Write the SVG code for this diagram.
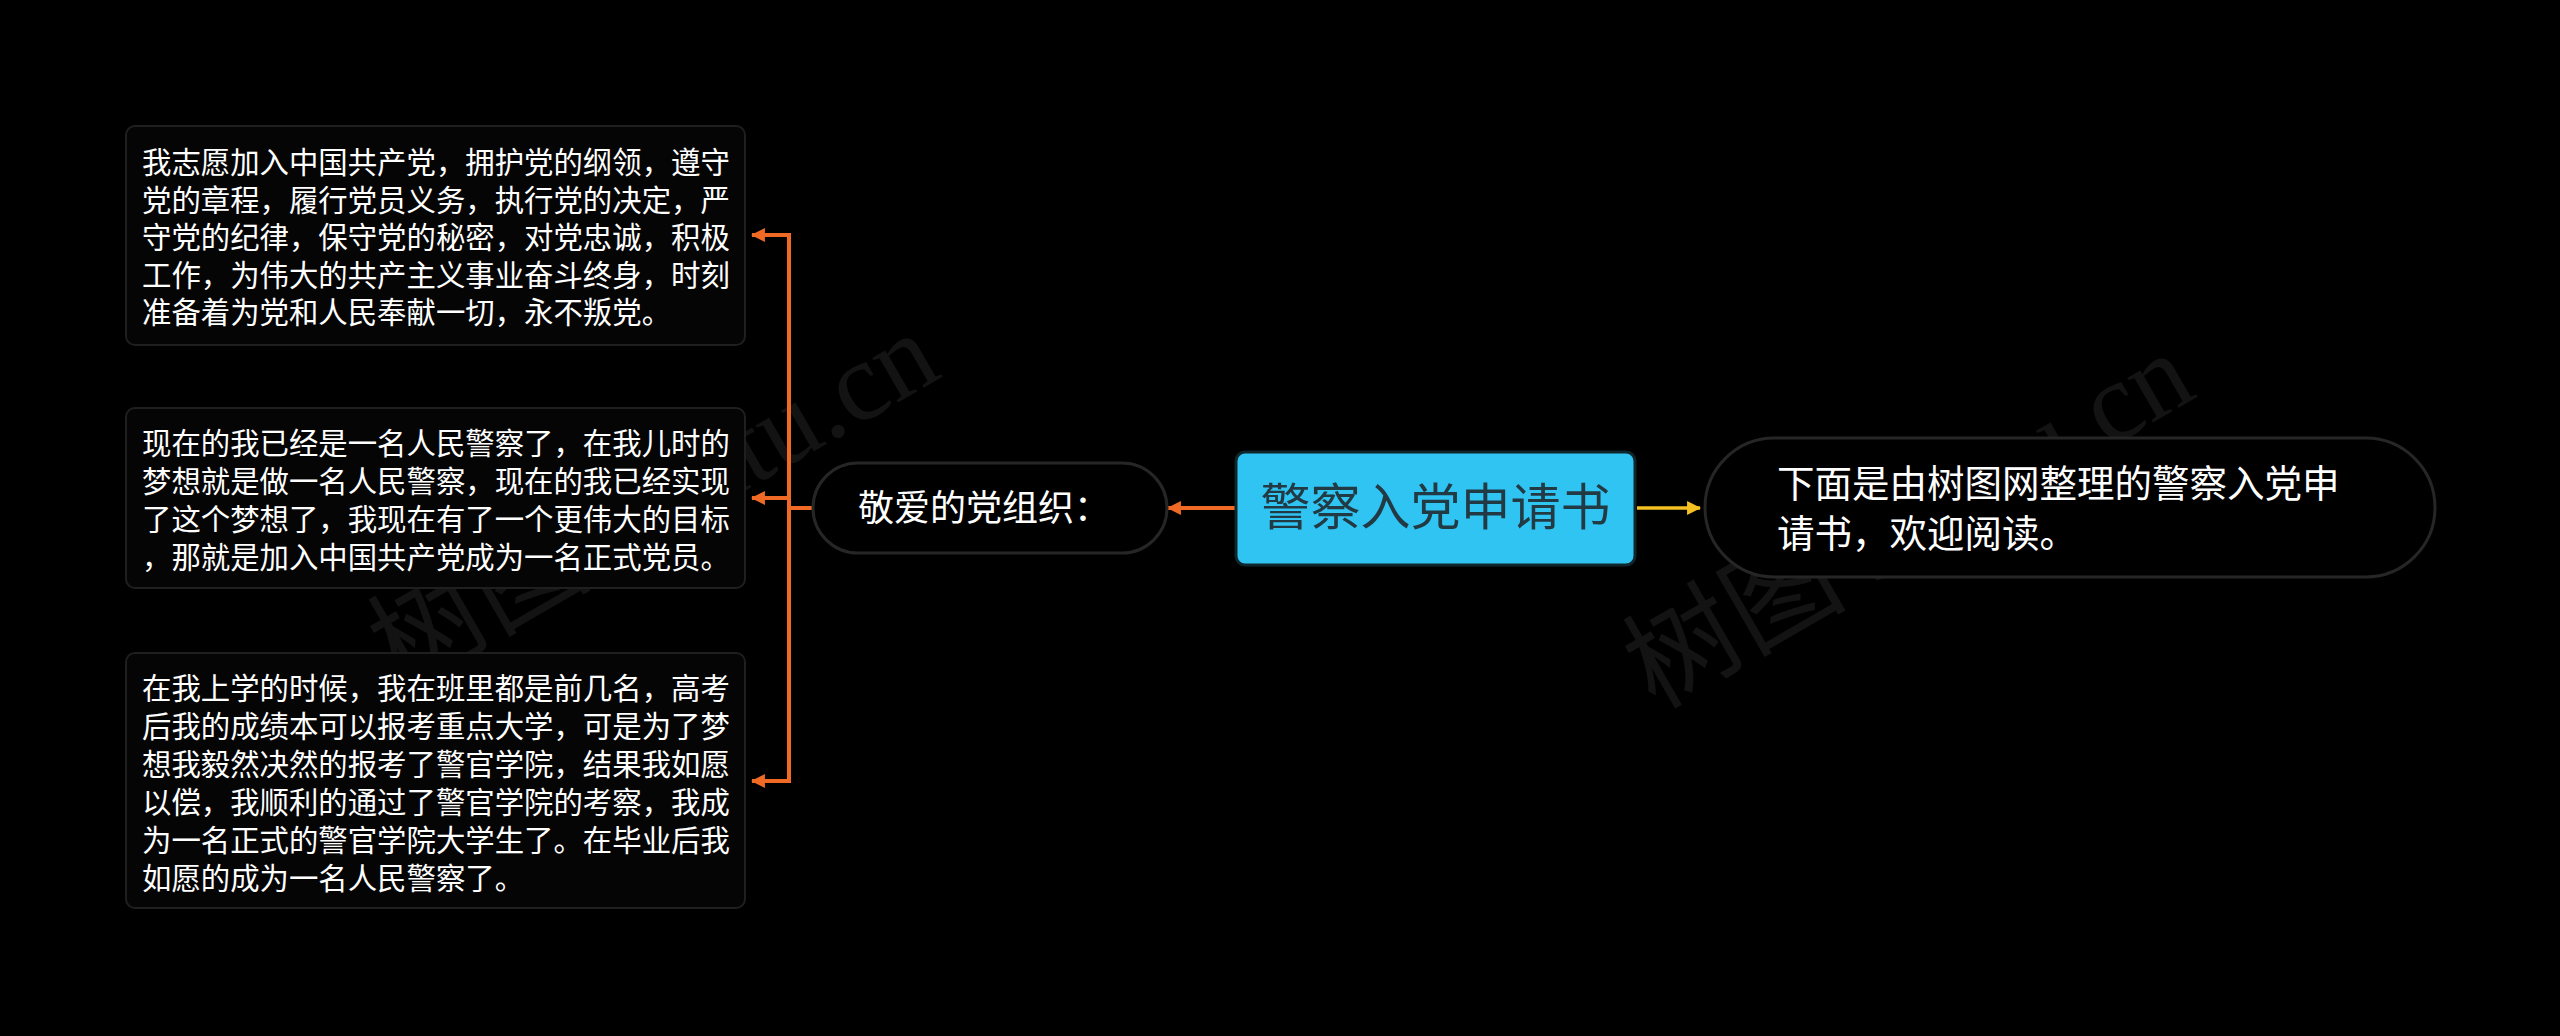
<svg xmlns="http://www.w3.org/2000/svg" width="2560" height="1036" viewBox="0 0 2560 1036">
<defs>
<style>
.bg{fill:#000}
.card{fill:#050505;stroke:#1f1f1f;stroke-width:2}
.pill{fill:#000;stroke:#262626;stroke-width:3}
.t{font-family:"Noto Sans CJK SC","Noto Sans",sans-serif;fill:#fff}
.body{font-size:29.4px}
.edge{fill:none;stroke:#f06a25;stroke-width:4}
.edgey{fill:none;stroke:#f5c022;stroke-width:3.5}
.wm{font-family:"Liberation Serif","Noto Sans CJK SC",serif;font-size:112px;fill:#fff;fill-opacity:0.075}
</style>
<marker id="ah" markerUnits="userSpaceOnUse" markerWidth="14" markerHeight="14" viewBox="0 0 13 13" refX="12" refY="6.5" orient="auto">
<path d="M0,0 L13,6.5 L0,13 z" fill="#f06a25"/>
</marker>
<marker id="ahy" markerUnits="userSpaceOnUse" markerWidth="14" markerHeight="14" viewBox="0 0 13 13" refX="12" refY="6.5" orient="auto">
<path d="M0,0 L13,6.5 L0,13 z" fill="#f5c022"/>
</marker>
</defs>
<rect class="bg" x="0" y="0" width="2560" height="1036"/>

<g id="watermarks">
<text class="wm" x="400" y="690" transform="rotate(-30 400 690)">树图 shutu.cn</text>
<text class="wm" x="1655" y="710" transform="rotate(-30 1655 710)">树图 shutu.cn</text>
</g>

<g id="connectors">
<path class="edge" d="M1236,508 L1168,508" marker-end="url(#ah)"/>
<path class="edgey" d="M1637,508 L1700,508" marker-end="url(#ahy)"/>
<path class="edge" d="M813,508 L789,508"/>
<path class="edge" d="M789,233 L789,783"/>
<path class="edge" d="M791,235 L752,235" marker-end="url(#ah)"/>
<path class="edge" d="M791,498 L752,498" marker-end="url(#ah)"/>
<path class="edge" d="M791,781 L752,781" marker-end="url(#ah)"/>
</g>

<g id="node-root">
<rect x="1236" y="452" width="399" height="113" rx="9" fill="#30c4f3" stroke="#10262d" stroke-width="3"/>
<text class="t" x="1435.5" y="525" font-size="50" text-anchor="middle" style="fill:#223a44">警察入党申请书</text>
</g>

<g id="node-intro">
<rect class="pill" x="1705" y="438" width="730" height="139" rx="69.5"/>
<text class="t" font-size="37.5"><tspan x="1777" y="496.5">下面是由树图网整理的警察入党申</tspan><tspan x="1777" y="546.5">请书，欢迎阅读。</tspan></text>
</g>

<g id="node-salutation">
<rect class="pill" x="813" y="463" width="354" height="90" rx="45"/>
<text class="t" x="858" y="521" font-size="36">敬爱的党组织：</text>
</g>

<g id="node-p1">
<rect class="card" x="126" y="126" width="619" height="219" rx="9"/>
<text class="t body"><tspan x="142" y="173">我志愿加入中国共产党，拥护党的纲领，遵守</tspan><tspan x="142" y="210.5">党的章程，履行党员义务，执行党的决定，严</tspan><tspan x="142" y="248">守党的纪律，保守党的秘密，对党忠诚，积极</tspan><tspan x="142" y="285.5">工作，为伟大的共产主义事业奋斗终身，时刻</tspan><tspan x="142" y="323">准备着为党和人民奉献一切，永不叛党。</tspan></text>
</g>

<g id="node-p2">
<rect class="card" x="126" y="408" width="619" height="180" rx="9"/>
<text class="t body"><tspan x="142" y="454">现在的我已经是一名人民警察了，在我儿时的</tspan><tspan x="142" y="492">梦想就是做一名人民警察，现在的我已经实现</tspan><tspan x="142" y="530">了这个梦想了，我现在有了一个更伟大的目标</tspan><tspan x="142" y="568">，那就是加入中国共产党成为一名正式党员。</tspan></text>
</g>

<g id="node-p3">
<rect class="card" x="126" y="653" width="619" height="255" rx="9"/>
<text class="t body"><tspan x="142" y="699">在我上学的时候，我在班里都是前几名，高考</tspan><tspan x="142" y="737">后我的成绩本可以报考重点大学，可是为了梦</tspan><tspan x="142" y="775">想我毅然决然的报考了警官学院，结果我如愿</tspan><tspan x="142" y="813">以偿，我顺利的通过了警官学院的考察，我成</tspan><tspan x="142" y="851">为一名正式的警官学院大学生了。在毕业后我</tspan><tspan x="142" y="889">如愿的成为一名人民警察了。</tspan></text>
</g>
</svg>
